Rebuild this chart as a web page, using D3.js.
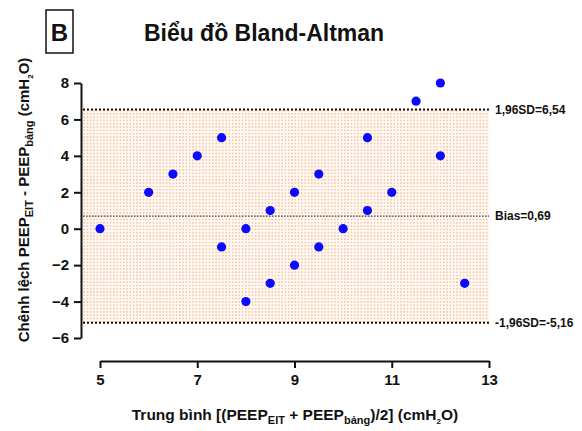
<!DOCTYPE html>
<html>
<head>
<meta charset="utf-8">
<script src="https://cdn.jsdelivr.net/npm/d3@7"></script>
<style>
  body { margin: 0; background: #fff; }
  text { font-family: "Liberation Sans", Arial, sans-serif; font-weight: bold; fill: #111; }
  .axis path, .axis line { stroke: #111; stroke-width: 2; }
  .axis text { font-size: 15px; font-family: "Liberation Sans", Arial, sans-serif; font-weight: bold; }
</style>
</head>
<body>
<svg id="chart" width="582" height="431"></svg>
<script>
// mean of the two PEEP values (x) and their difference (y)
var meanVals = [5, 6, 6.5, 7, 7.5, 7.5, 8, 8, 8.5, 8.5, 9, 9, 9.5, 9.5, 10, 10.5, 10.5, 11, 11.5, 12, 12, 12.5];
var diffVals = [0, 2, 3, 4, 5, -1, 0, -4, 1, -3, 2, -2, 3, -1, 0, 5, 1, 2, 7, 8, 4, -3];
var xTicks = [5, 7, 9, 11, 13];
var yTicks = [-6, -4, -2, 0, 2, 4, 6, 8];
var bias = 0.69, upperLoA = 6.54, lowerLoA = -5.16;
var limitLabels = ["1,96SD=6,54", "Bias=0,69", "-1,96SD=-5,16"];

var svg = d3.select("#chart");

var plotLeft = 83, plotRight = 489, plotTop = 83, plotBottom = 338, xAxisY = 361, yAxisX = 81;

var xScale = d3.scaleLinear().domain([5, 13]).range([100, 489]);
var yScale = d3.scaleLinear().domain([-6, 8]).range([plotBottom, plotTop]);

// dotted orange fill pattern
var defs = svg.append("defs");
var pat = defs.append("pattern")
    .attr("id", "dots")
    .attr("patternUnits", "userSpaceOnUse")
    .attr("width", 3.3).attr("height", 3.3);
pat.append("rect").attr("width", 3.3).attr("height", 3.3).attr("fill", "#fffaf5");
pat.append("circle").attr("cx", 1.65).attr("cy", 1.65).attr("r", 0.75).attr("fill", "#f5b383");

svg.append("rect")
    .attr("x", plotLeft)
    .attr("y", yScale(upperLoA))
    .attr("width", plotRight - plotLeft)
    .attr("height", yScale(lowerLoA) - yScale(upperLoA))
    .attr("fill", "url(#dots)");

// limits of agreement
[upperLoA, lowerLoA].forEach(function(v) {
    svg.append("line")
        .attr("x1", plotLeft).attr("x2", plotRight)
        .attr("y1", yScale(v)).attr("y2", yScale(v))
        .attr("stroke", "#111").attr("stroke-width", 2)
        .attr("stroke-dasharray", "2,2");
});
svg.append("line")
    .attr("x1", plotLeft).attr("x2", plotRight)
    .attr("y1", yScale(bias)).attr("y2", yScale(bias))
    .attr("stroke", "#444").attr("stroke-width", 1.2)
    .attr("stroke-dasharray", "1.5,1.5");

svg.selectAll(".limlab")
    .data([upperLoA, bias, lowerLoA])
  .enter().append("text")
    .attr("class", "limlab")
    .attr("x", plotRight + 6)
    .attr("y", d => yScale(d))
    .attr("dy", "0.35em")
    .style("font-size", "12px")
    .text((d, i) => limitLabels[i]);

// axes
svg.append("g")
    .attr("class", "axis")
    .attr("transform", "translate(" + yAxisX + ",0)")
    .call(d3.axisLeft(yScale).tickValues(yTicks).tickSize(7).tickSizeOuter(0).tickPadding(5));

svg.append("g")
    .attr("class", "axis")
    .attr("transform", "translate(0," + xAxisY + ")")
    .call(d3.axisBottom(xScale).tickValues(xTicks).tickSize(7).tickSizeOuter(0).tickPadding(6));

// points
svg.selectAll(".dot")
    .data(meanVals)
  .enter().append("circle")
    .attr("class", "dot")
    .attr("cx", d => xScale(d))
    .attr("cy", (d, i) => yScale(diffVals[i]))
    .attr("r", 4.6)
    .attr("fill", "#0a0aff");

// panel letter and title
svg.append("rect")
    .attr("x", 46).attr("y", 10).attr("width", 27).attr("height", 43)
    .attr("fill", "none").attr("stroke", "#111").attr("stroke-width", 1.5);
svg.append("text").attr("x", 59.5).attr("y", 41).attr("text-anchor", "middle")
    .style("font-size", "24px").text("B");
svg.append("text").attr("x", 264).attr("y", 41).attr("text-anchor", "middle")
    .style("font-size", "23px").text("Biểu đồ Bland-Altman");

// x label
var xl = svg.append("text").attr("x", 295).attr("y", 420).attr("text-anchor", "middle")
    .style("font-size", "15.5px");
xl.append("tspan").text("Trung bình [(PEEP");
xl.append("tspan").attr("dy", 4).style("font-size", "11px").text("EIT");
xl.append("tspan").attr("dy", -4).text(" + PEEP");
xl.append("tspan").attr("dy", 4).style("font-size", "11px").text("bảng");
xl.append("tspan").attr("dy", -4).text(")/2] (cmH");
xl.append("tspan").attr("dy", 4).style("font-size", "8px").text("2");
xl.append("tspan").attr("dy", -4).text("O)");

// y label
var yl = svg.append("text")
    .attr("transform", "translate(29,200) rotate(-90)")
    .attr("text-anchor", "middle")
    .style("font-size", "15px");
yl.append("tspan").text("Chênh lệch PEEP");
yl.append("tspan").attr("dy", 4).style("font-size", "11px").text("EIT");
yl.append("tspan").attr("dy", -4).text(" - PEEP");
yl.append("tspan").attr("dy", 4).style("font-size", "11px").text("bảng");
yl.append("tspan").attr("dy", -4).text(" (cmH");
yl.append("tspan").attr("dy", 4).style("font-size", "8px").text("2");
yl.append("tspan").attr("dy", -4).text("O)");
</script>
</body>
</html>
